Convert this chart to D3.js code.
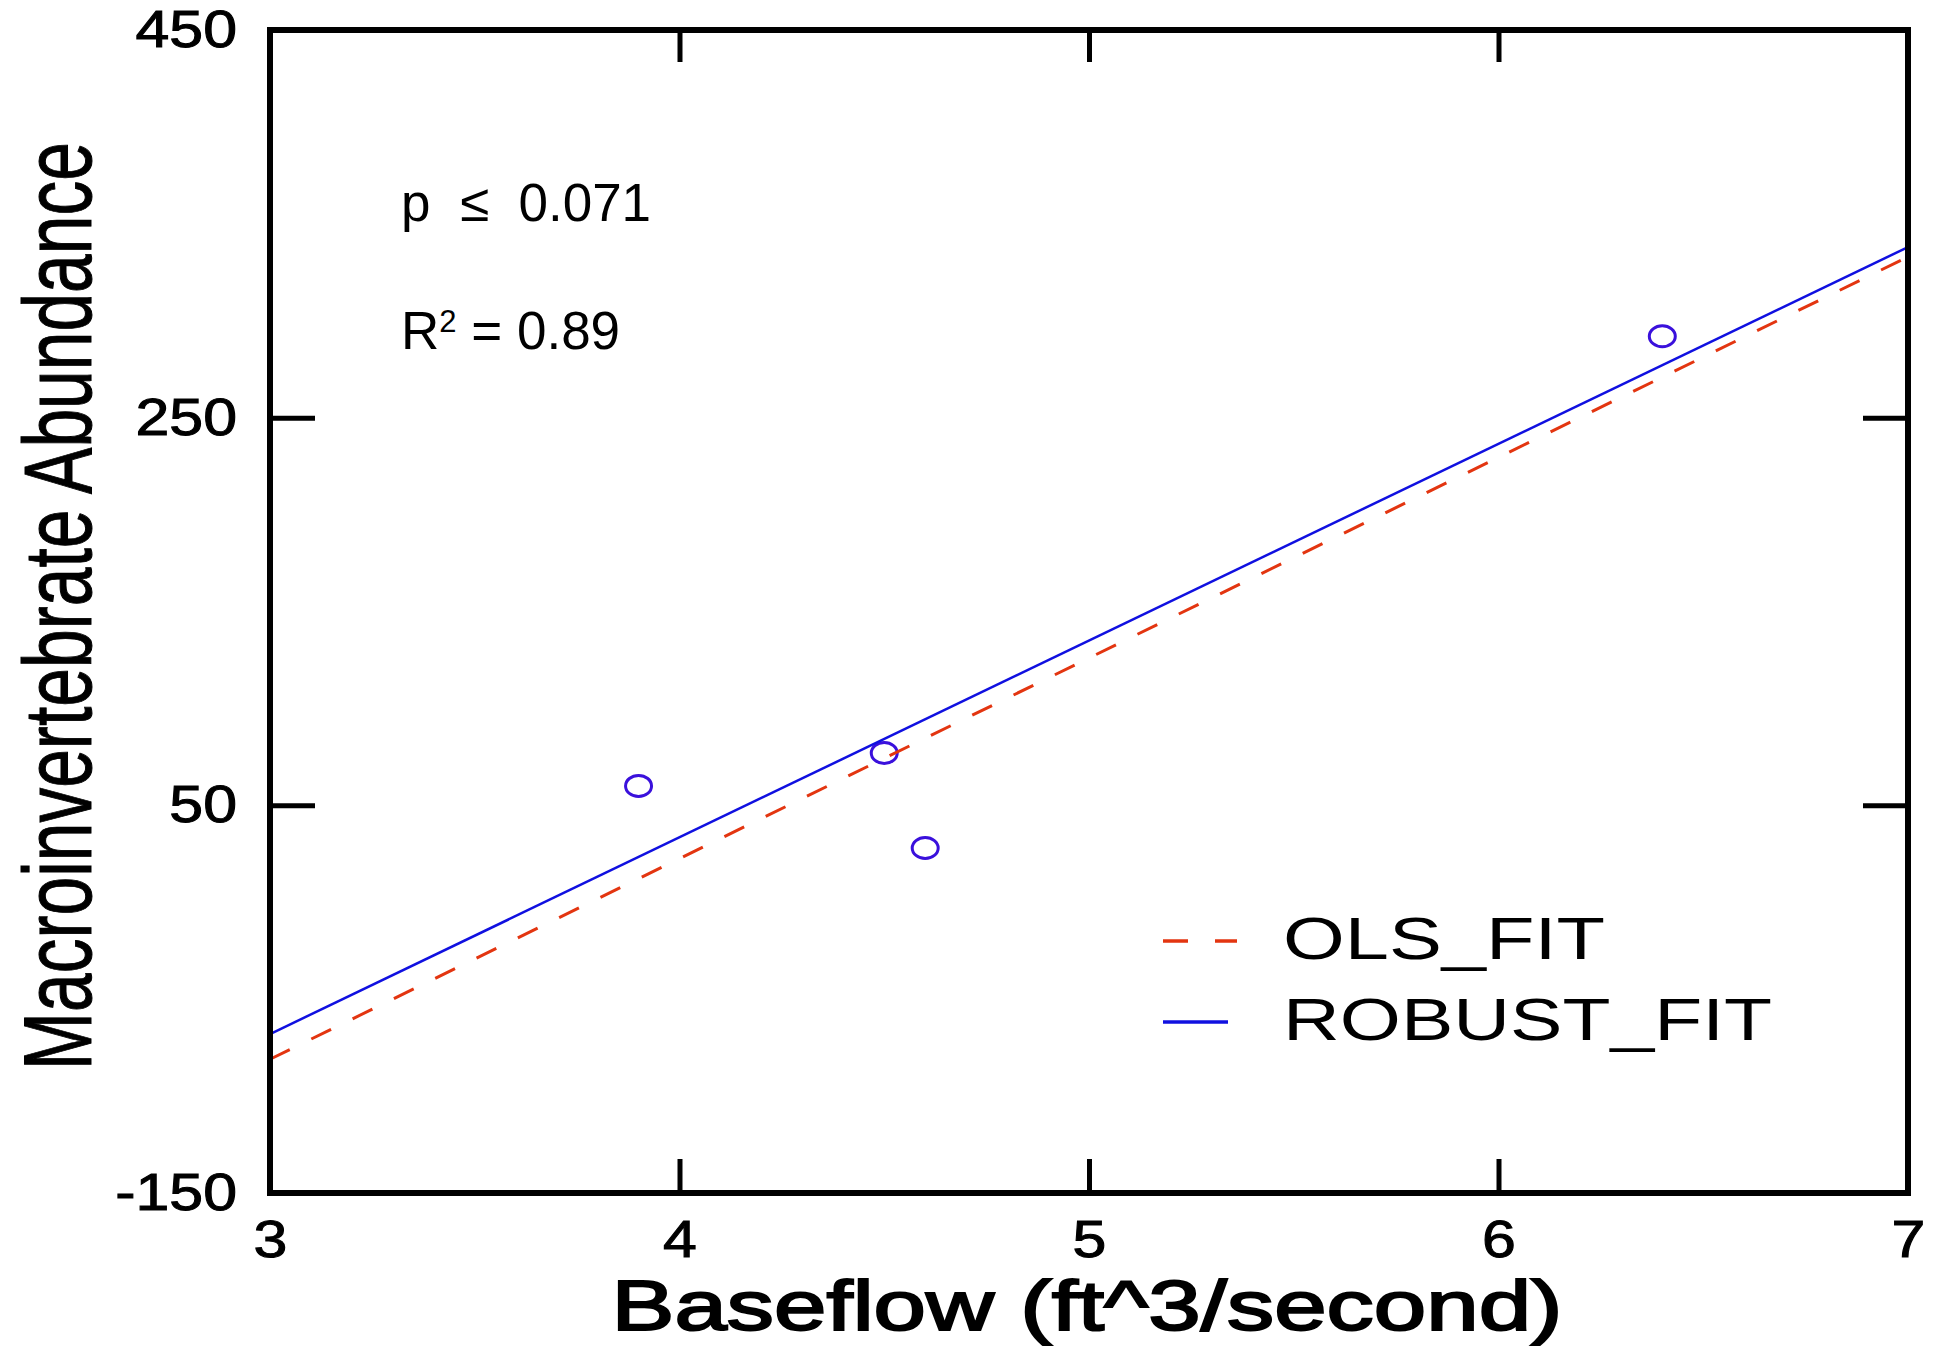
<!DOCTYPE html>
<html>
<head>
<meta charset="utf-8">
<script src="https://cdn.jsdelivr.net/npm/d3@7"></script>
<style>
  body { margin: 0; background: #fff; }
  text { font-family: "Liberation Sans", Arial, sans-serif; fill: #000; }
</style>
</head>
<body>
<div id="chart"></div>
<script>
// datos
const baseflow = [3.9, 4.5, 4.6, 6.4];
const abundance = [60, 77, 28, 292];
const fitX = [3, 7];
const olsFit = [-81, 333];
const robustFit = [-68, 338];
const xTicks = [3, 4, 5, 6, 7];
const yTicks = [-150, 50, 250, 450];
const legendNames = ["OLS_FIT", "ROBUST_FIT"];

const width = 1940;
const height = 1346;
const margin = { top: 30, right: 32, bottom: 153, left: 270 };
const x0 = margin.left, x1 = width - margin.right;
const y0 = height - margin.bottom, y1 = margin.top;

const blue = "#1010e0";
const red = "#e33510";
const pointColor = "#3a10dc";

const svg = d3
  .select("#chart")
  .append("svg")
  .attr("width", width)
  .attr("height", height);

const xScale = d3.scaleLinear().domain([3, 7]).range([x0, x1]);
const yScale = d3.scaleLinear().domain([-150, 450]).range([y0, y1]);

// estira las etiquetas de los ejes como en el original
function stretch(sel, k) {
  sel.each(function () {
    const w = this.getComputedTextLength();
    d3.select(this).attr("textLength", w * k).attr("lengthAdjust", "spacingAndGlyphs");
  });
}

function styleAxis(g, showText) {
  g.select(".domain").remove();
  g.selectAll(".tick line").attr("stroke", "#000").attr("stroke-width", 5);
  const t = g.selectAll(".tick text")
    .style("font-size", "52px")
    .attr("fill", "#000")
    .attr("stroke", "#000")
    .attr("stroke-width", 1);
  if (showText) stretch(t, 1.17);
  else t.remove();
}

// ejes
const xAxisG = svg.append("g").attr("transform", "translate(0," + y0 + ")")
  .call(d3.axisBottom(xScale).tickValues(xTicks).tickSizeInner(-34).tickSizeOuter(0).tickPadding(27).tickFormat((d) => String(d)));
styleAxis(xAxisG, true);

const xTopG = svg.append("g").attr("transform", "translate(0," + y1 + ")")
  .call(d3.axisTop(xScale).tickValues(xTicks).tickSizeInner(-32).tickSizeOuter(0));
styleAxis(xTopG, false);

const yAxisG = svg.append("g").attr("transform", "translate(" + x0 + ",0)")
  .call(d3.axisLeft(yScale).tickValues(yTicks).tickSizeInner(-45).tickSizeOuter(0).tickPadding(33).tickFormat((d) => String(d)));
styleAxis(yAxisG, true);

const yRightG = svg.append("g").attr("transform", "translate(" + x1 + ",0)")
  .call(d3.axisRight(yScale).tickValues(yTicks).tickSizeInner(-45).tickSizeOuter(0));
styleAxis(yRightG, false);

// puntos
svg.selectAll(".dot")
  .data(baseflow)
  .enter()
  .append("ellipse")
  .attr("class", "dot")
  .attr("cx", (d) => xScale(d))
  .attr("cy", (d, i) => yScale(abundance[i]))
  .attr("rx", 13)
  .attr("ry", 10.5)
  .attr("fill", "none")
  .attr("stroke", pointColor)
  .attr("stroke-width", 3);

// rectas de ajuste
const line = d3.line().x((d) => xScale(d[0])).y((d) => yScale(d[1]));

svg.append("path")
  .datum(fitX.map((x, i) => [x, olsFit[i]]))
  .attr("d", line)
  .attr("fill", "none")
  .attr("stroke", red)
  .attr("stroke-width", 3)
  .attr("stroke-dasharray", "22,24");

svg.append("path")
  .datum(fitX.map((x, i) => [x, robustFit[i]]))
  .attr("d", line)
  .attr("fill", "none")
  .attr("stroke", blue)
  .attr("stroke-width", 2.5);

// marco
svg.append("rect")
  .attr("x", x0).attr("y", y1)
  .attr("width", x1 - x0).attr("height", y0 - y1)
  .attr("fill", "none")
  .attr("stroke", "#000")
  .attr("stroke-width", 6);

// titulos de ejes
svg.append("text")
  .attr("x", (x0 + x1) / 2 - 2)
  .attr("y", 1330)
  .attr("text-anchor", "middle")
  .style("font-size", "70px")
  .attr("stroke", "#000")
  .attr("stroke-width", 2)
  .attr("textLength", 951)
  .attr("lengthAdjust", "spacingAndGlyphs")
  .text("Baseflow (ft^3/second)");

// titulo Y comprimido con escala (no con textLength)
const yTitle = svg.append("text")
  .attr("text-anchor", "middle")
  .style("font-size", "96px")
  .attr("stroke", "#000")
  .attr("stroke-width", 1)
  .text("Macroinvertebrate Abundance");
const yTitleW = yTitle.node().getComputedTextLength();
yTitle.attr("transform", "translate(91,606) rotate(-90) scale(" + (928 / yTitleW) + ",1)");

// anotaciones
svg.append("text")
  .attr("x", 401)
  .attr("y", 221)
  .style("font-size", "53px")
  .style("white-space", "pre")
  .text("p  \u2264  0.071");

const r2 = svg.append("text")
  .attr("x", 401)
  .attr("y", 349)
  .style("font-size", "53px");
r2.append("tspan").text("R");
r2.append("tspan").attr("dy", -17).style("font-size", "31px").text("2");
r2.append("tspan").attr("dy", 17).text(" = 0.89");

// leyenda
const legendY = [941, 1022];
const legend = svg.selectAll(".legend")
  .data(legendNames)
  .enter()
  .append("g")
  .attr("class", "legend");

legend.append("line")
  .attr("x1", 1163).attr("x2", (d, i) => (i === 0 ? 1237 : 1228))
  .attr("y1", (d, i) => legendY[i]).attr("y2", (d, i) => legendY[i])
  .attr("stroke", (d, i) => (i === 0 ? red : blue))
  .attr("stroke-width", 3.5)
  .attr("stroke-dasharray", (d, i) => (i === 0 ? "25,27" : null));

legend.append("text")
  .attr("x", 1283)
  .attr("y", (d, i) => legendY[i] + 18)
  .style("font-size", "60px")
  .attr("textLength", (d, i) => (i === 0 ? 322 : 489))
  .attr("lengthAdjust", "spacingAndGlyphs")
  .text((d) => d);
</script>
</body>
</html>
